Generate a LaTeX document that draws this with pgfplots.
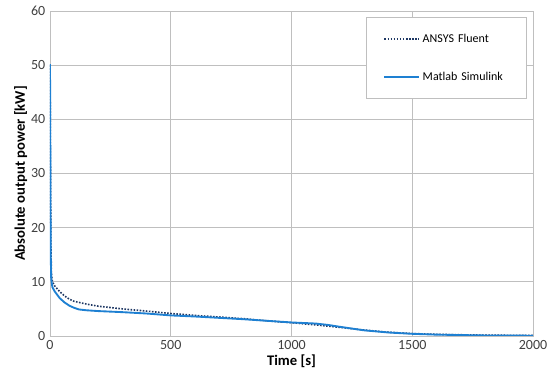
\documentclass[border=0pt]{standalone}
\usepackage{fontspec}
\setmainfont{Carlito}
\usepackage{pgfplots}
\pgfplotsset{compat=1.18}
\definecolor{simblue}{RGB}{30,128,210}
\definecolor{fluentnavy}{RGB}{31,56,100}
\definecolor{gridgray}{RGB}{191,191,191}
\definecolor{ticktext}{RGB}{64,64,64}
\begin{document}
\begin{tikzpicture}
\begin{axis}[
  at={(0,0)}, anchor=south west,
  scale only axis,
  width=362.25pt, height=243.75pt,
  xmin=0, xmax=2000, ymin=0, ymax=60,
  xtick={0,500,1000,1500,2000},
  ytick={0,10,20,30,40,50,60},
  grid=major,
  major grid style={gridgray, line width=0.6pt},
  axis line style={gridgray, line width=0.6pt},
  tick style={draw=none},
  ticklabel style={font=\fontsize{10.5}{12}\selectfont, text=ticktext},
  /pgf/number format/assume math mode=true,
  scaled x ticks=false,
  xticklabel style={/pgf/number format/1000 sep={}},
  xlabel={\textbf{Time [s]}},
  ylabel={\textbf{Absolute output power [kW]}},
  label style={font=\fontsize{11}{13}\selectfont, text=black},
  xlabel style={yshift=3pt},
  ylabel style={yshift=-4pt},
  legend style={
    at={(0.9876,0.98)}, anchor=north east,
    draw=gridgray, fill=white,
    font=\fontsize{9}{11}\selectfont,
    row sep=17pt, inner xsep=13pt, inner ysep=10pt,
    text width=63pt,
  },
  legend cell align=left,
]
\addlegendimage{fluentnavy, dash pattern=on 1.2pt off 1.1pt, line width=1.2pt, legend image code/.code={\draw[fluentnavy, dash pattern=on 1.2pt off 1.1pt, line width=1.2pt] (0pt,0pt) -- (26pt,0pt);}}
\addlegendentry{ANSYS Fluent}
\addlegendimage{simblue, line width=1.4pt, legend image code/.code={\draw[simblue, line width=1.4pt] (0pt,0pt) -- (26pt,0pt);}}
\addlegendentry{Matlab Simulink}
\addplot[fluentnavy, dash pattern=on 1.2pt off 1.1pt, line width=1.2pt, forget plot] coordinates {
(0,50) (1,42) (2,30) (4,16) (6,11.5) (10,10) (20,9.2) (40,8.2) (60,7.4) (80,6.8) (100,6.4) (150,5.9) (200,5.5) (300,5.0) (400,4.6) (500,4.15) (600,3.8) (700,3.5) (800,3.2) (900,2.8) (1000,2.45) (1100,2.05) (1200,1.6) (1300,1.1) (1400,0.7) (1500,0.45) (1600,0.3) (1800,0.15) (2000,0.1)
};
\addplot[simblue, line width=1.4pt, forget plot] coordinates {
(0,50.2) (1,40) (2,25) (3,15) (5,10.5) (10,9) (20,8.2) (40,7) (60,6.2) (80,5.6) (100,5.2) (120,4.9) (150,4.75) (200,4.6) (300,4.4) (400,4.15) (500,3.8) (600,3.6) (700,3.35) (800,3.1) (900,2.8) (1000,2.5) (1100,2.3) (1150,2.05) (1200,1.7) (1300,1.05) (1400,0.65) (1500,0.4) (1600,0.25) (1800,0.1) (2000,0.05)
};
\end{axis}
\pgfresetboundingbox
\path[use as bounding box] (-37.5pt,-36pt) rectangle (375pt,252pt);
\end{tikzpicture}
\end{document}
